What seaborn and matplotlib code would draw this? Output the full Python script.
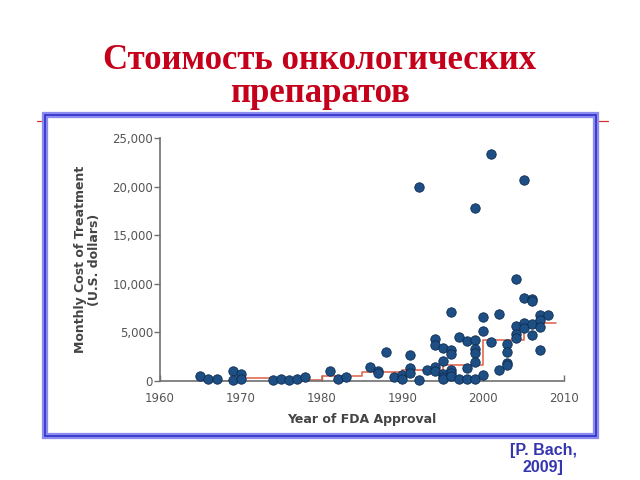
import matplotlib
matplotlib.use("Agg")
import matplotlib.pyplot as plt
import seaborn as sns
import pandas as pd
from matplotlib.patches import Rectangle
from matplotlib.lines import Line2D

# ---- data ----
years = [1965, 1966, 1967, 1969, 1969, 1970, 1970, 1974, 1975, 1976, 1977, 1978,
         1981, 1982, 1983, 1986, 1987, 1987, 1988, 1989, 1990, 1990,
         1991, 1991, 1991, 1992, 1992, 1993,
         1994, 1994, 1994, 1994, 1995, 1995, 1995, 1995, 1995,
         1996, 1996, 1996, 1996, 1996, 1996, 1997, 1997, 1998, 1998, 1998,
         1999, 1999, 1999, 1999, 1999, 1999, 2000, 2000, 2000, 2001, 2001,
         2002, 2002, 2003, 2003, 2003, 2003, 2004, 2004, 2004, 2004,
         2005, 2005, 2005, 2005, 2006, 2006, 2006, 2006,
         2007, 2007, 2007, 2007, 2008]
costs = [500, 170, 170, 1030, 100, 680, 240, 70, 170, 100, 170, 450,
         1000, 170, 450, 1440, 1000, 860, 2950, 410, 620, 240,
         2700, 1340, 860, 19970, 100, 1130,
         4280, 3730, 1470, 1030, 3360, 2050, 680, 410, 240,
         7090, 3150, 2800, 1130, 860, 510, 4520, 240, 4110, 1370, 240,
         17810, 4210, 3320, 2910, 1990, 240, 6540, 5170, 580, 23360, 4010,
         6850, 1130, 3840, 2950, 1880, 1640, 10450, 5620, 4860, 4450,
         20650, 8490, 5990, 5480, 8390, 8250, 5820, 4730,
         6820, 6270, 5550, 3180, 6820]

step_years = [1965, 1970, 1975, 1980, 1985, 1990, 1995, 2000, 2005, 2009]
step_values = [50, 320, 130, 470, 950, 1100, 1600, 4200, 6000, 6000]

x_ticks = [1960, 1970, 1980, 1990, 2000, 2010]
y_ticks = [0, 5000, 10000, 15000, 20000, 25000]
y_tick_labels = ["0", "5,000", "10,000", "15,000", "20,000", "25,000"]

title = "Стоимость онкологических\nпрепаратов"
x_label = "Year of FDA Approval"
y_label = "Monthly Cost of Treatment\n(U.S. dollars)"
citation = "[P. Bach,\n2009]"

df = pd.DataFrame({"year": years, "cost": costs})
steps = pd.DataFrame({"year": step_years, "cost": step_values})

sns.set_style("white")
plt.rcParams["font.family"] = ["DejaVu Sans"]

fig = plt.figure(figsize=(6.4, 4.8), dpi=100)

# decorative frame (behind the axes)
fig.add_artist(Line2D([37 / 640, 608 / 640], [1 - 121 / 480, 1 - 121 / 480],
                      color="#d83030", lw=0.9, transform=fig.transFigure,
                      zorder=-3))
fig.add_artist(Rectangle((45 / 640, 1 - 436 / 480), 551 / 640, 321 / 480,
                         transform=fig.transFigure, facecolor="white",
                         edgecolor="#8c8cf0", lw=4.5, zorder=-2))
fig.add_artist(Rectangle((45 / 640, 1 - 436 / 480), 551 / 640, 321 / 480,
                         transform=fig.transFigure, fill=False,
                         edgecolor="#3030c8", lw=1.2, zorder=-1))

fig.text(0.5, 1 - 77 / 480, title, ha="center", va="center",
         fontsize=25, fontweight="bold", color="#c4001a",
         family=["Liberation Serif", "DejaVu Serif"], linespacing=1.0)

fig.text(543 / 640, 1 - 459 / 480, citation, ha="center", va="center",
         fontsize=11.5, fontweight="bold", color="#3535b0",
         family=["Liberation Sans", "DejaVu Sans"], linespacing=1.2)

ax = fig.add_axes([160 / 640, 1 - 381 / 480, 404 / 640, 243 / 480])
ax.patch.set_alpha(0)

sns.lineplot(data=steps, x="year", y="cost", drawstyle="steps-post",
             color="#dc5f45", lw=1.1, ax=ax, zorder=2)
sns.scatterplot(data=df, x="year", y="cost", ax=ax, s=46,
                color="#1d4f84", edgecolor="#0d2c52", linewidth=0.6,
                zorder=3, clip_on=False)

ax.set_xlim(1960, 2010)
ax.set_ylim(0, 25000)
ax.set_xticks(x_ticks)
ax.set_yticks(y_ticks)
ax.set_yticklabels(y_tick_labels)

for s in ["top", "right"]:
    ax.spines[s].set_visible(False)
for s in ["left", "bottom"]:
    ax.spines[s].set_color("#707070")
    ax.spines[s].set_linewidth(1.2)

ax.tick_params(axis="y", direction="out", length=4, width=1, color="#707070",
               labelsize=8.5, labelcolor="#555555", pad=1, left=True)
ax.tick_params(axis="x", direction="in", length=4, width=1, color="#707070",
               labelsize=8.5, labelcolor="#555555", pad=8, bottom=True)

ax.set_xlabel(x_label, fontsize=9, fontweight="bold", color="#444444", labelpad=6)
ax.set_ylabel(y_label, fontsize=9, fontweight="bold", color="#444444",
              labelpad=8, linespacing=1.1)

fig.savefig("out.png", dpi=100)
